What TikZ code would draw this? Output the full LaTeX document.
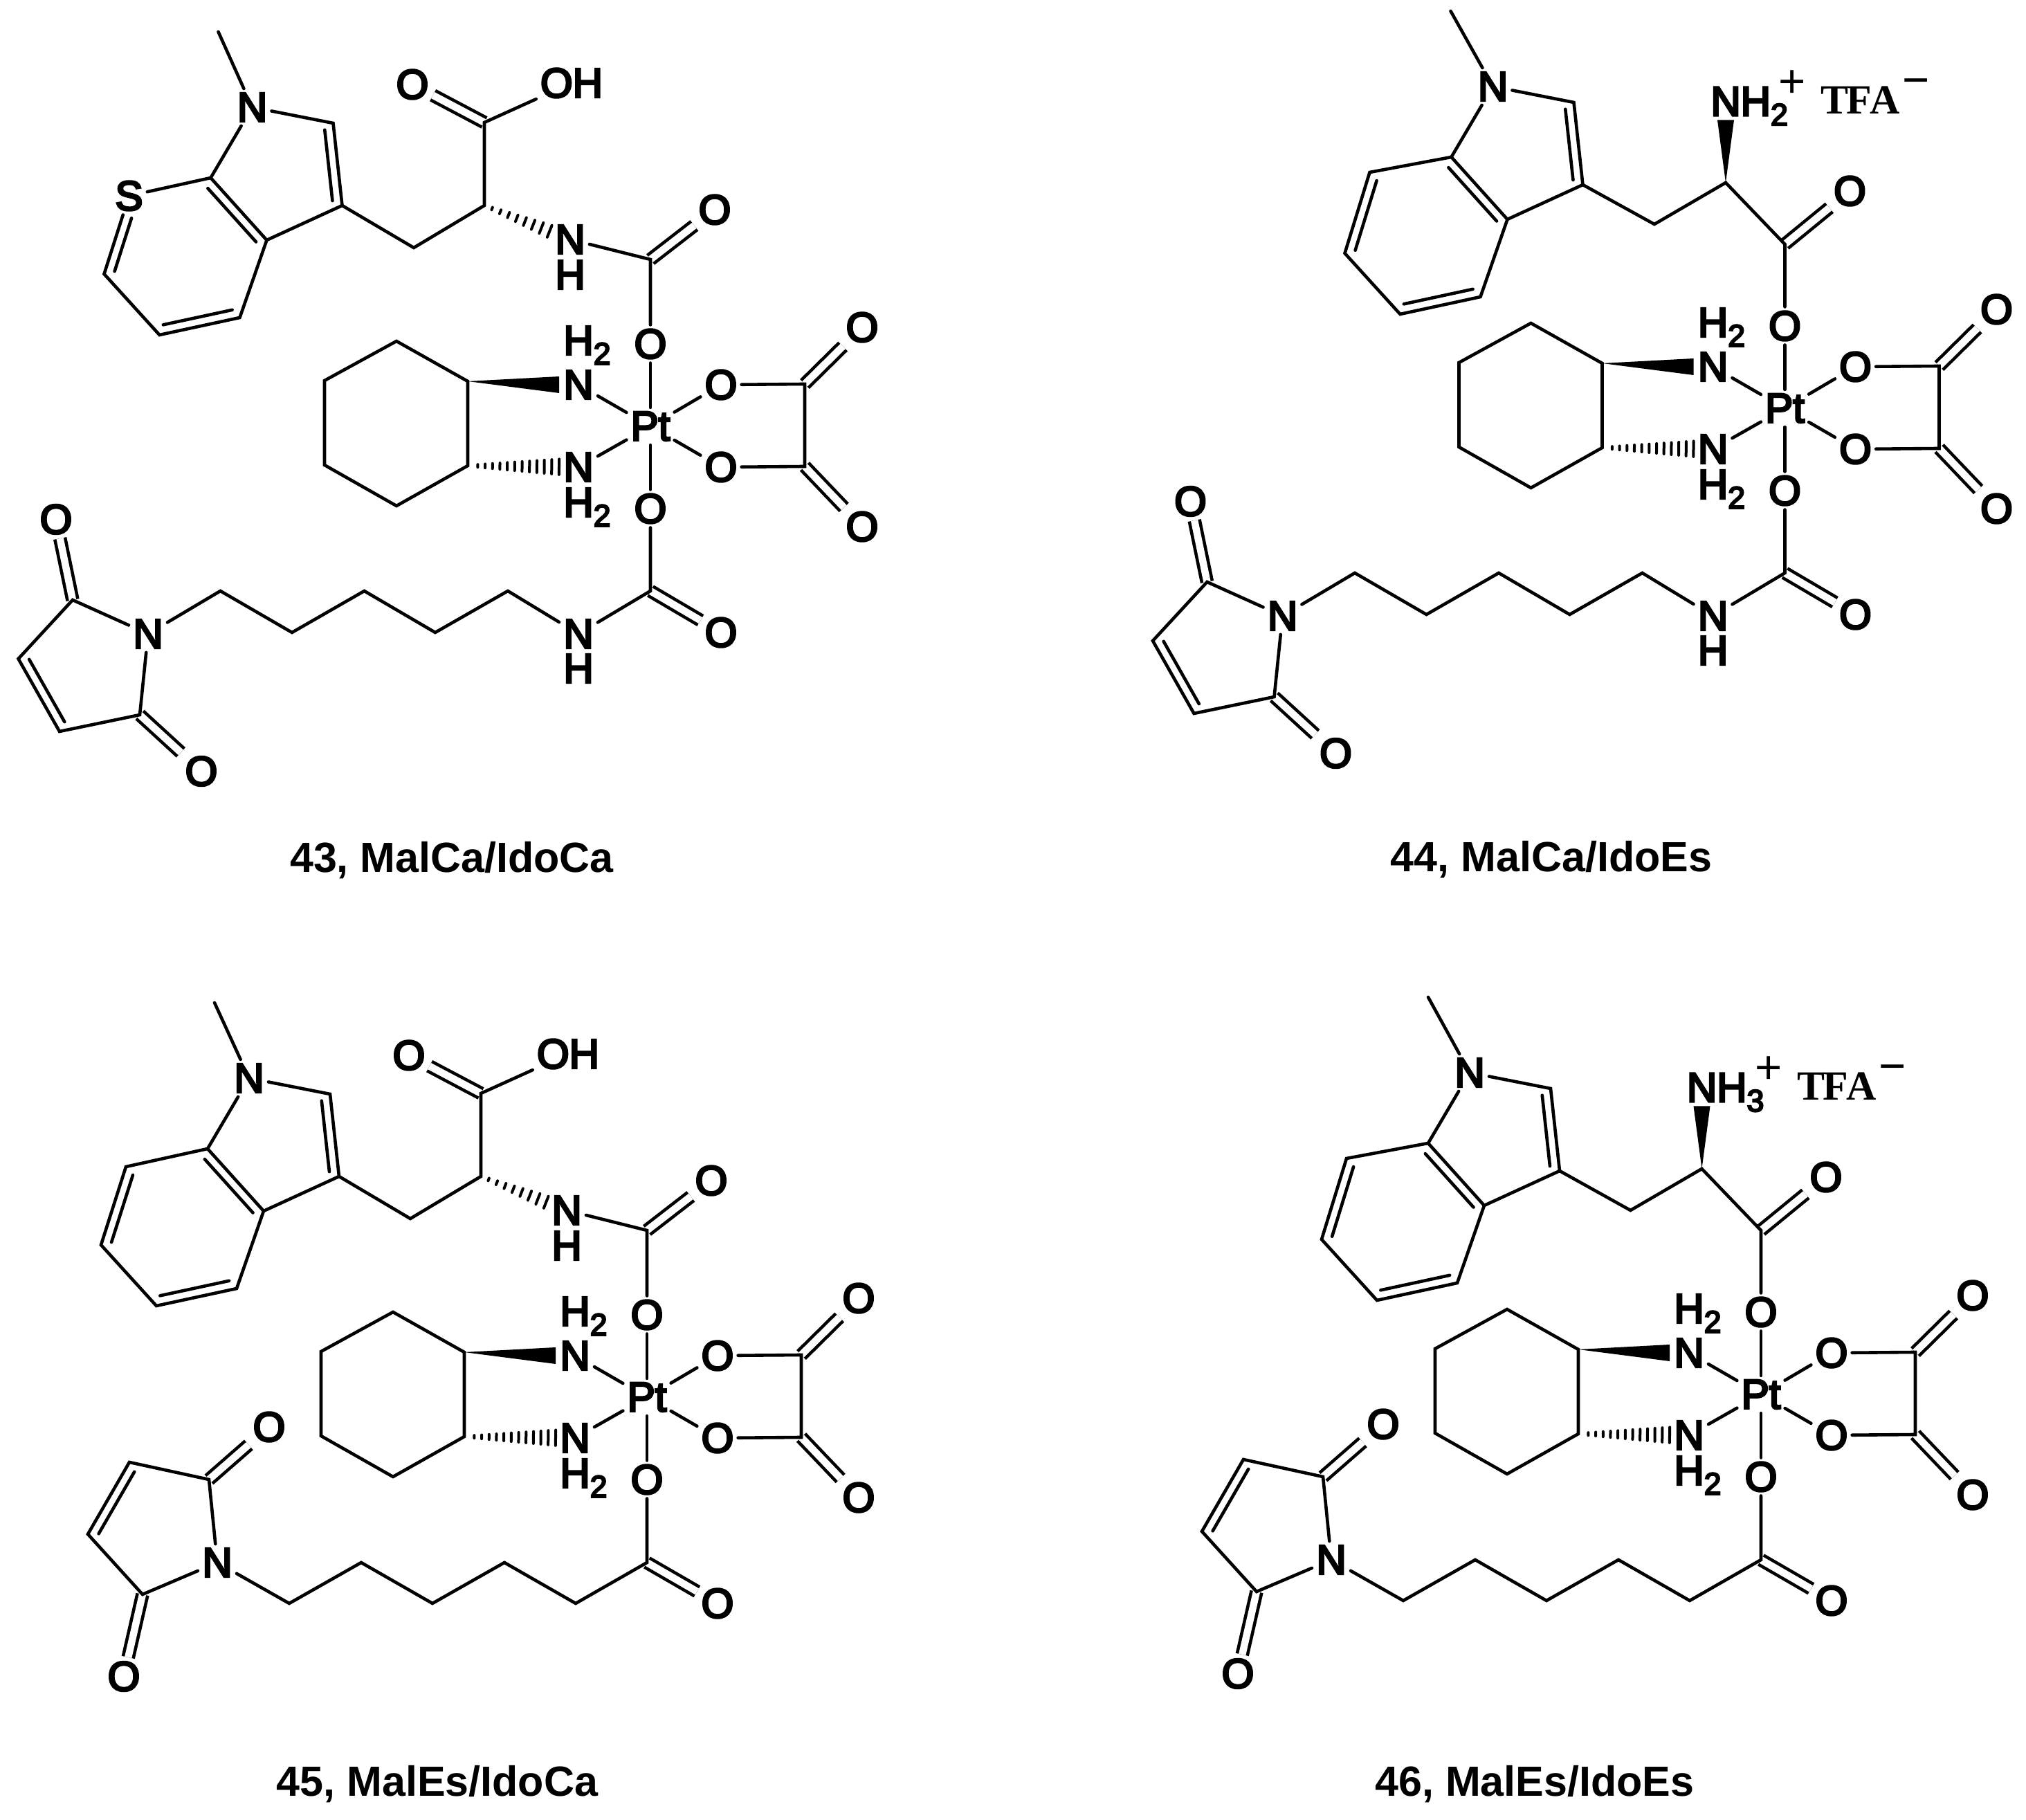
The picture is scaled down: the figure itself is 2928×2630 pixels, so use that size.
\documentclass[tikz,border=0pt]{standalone}
\usepackage{fontspec}
\setmainfont{Liberation Sans}
\newfontfamily\atomfont[FakeBold=5]{Liberation Sans}
\newfontfamily\tfafont{Liberation Serif}
\usetikzlibrary{calc}

\tikzset{
	atom/.style={inner sep=1pt,font=\atomfont\fontsize{15}{15}\selectfont},
	charge/.style={inner sep=0pt,font=\fontsize{16.8}{17}\selectfont},
	salt/.style={inner sep=0pt,font=\fontsize{15}{15}\selectfont\tfafont\bfseries},
	caption/.style={inner sep=0pt,font=\fontsize{15.25}{16}\selectfont\bfseries},
	dbl/.style={double,double distance=2.6pt,line cap=butt}
}

\newcommand{\subdigit}[1]{\smash{\raisebox{-3.5pt}{\fontsize{11.2}{11.2}\selectfont #1}}}
% second line of a ring double bond, on the left going from #2 to #3
\newcommand{\innerbond}[3][.07]{\draw ($(#2)!#1!(#3)!3.3pt!90:(#3)$) -- ($(#3)!.07!(#2)!3.3pt!-90:(#2)$);}
% #3 last position, #4 marks, #5 half length of the last mark
\newcommand{\hashbond}[5]{
	\foreach \n in {1,...,#4} {
		\pgfmathsetmacro\hf{0.09+(#3-0.09)*(\n-1)/(#4-1)}
		\pgfmathsetmacro\hw{0.5+(#5-0.5)*(\n-1)/(#4-1)}
		\draw[line width=1pt] ($(#1)!\hf!(#2)!\hw pt!90:(#2)$) -- ($(#1)!\hf!(#2)!\hw pt!-90:(#2)$);
	}
}

% platinum centre with oxalate and diaminocyclohexane
\newcommand{\platcore}{
	\node[atom] (pt) at (0,-1) {Pt};
	\node[atom] (oa) at (0,-120) {O};
	\node[atom] (ob) at (0,118) {O};
	\node[atom] (oc) at (102,-61) {O};
	\node[atom] (od) at (102,58) {O};
	\coordinate (xa) at (223,-62);
	\coordinate (xb) at (223,57);
	\node[atom] (oe) at (306,-144) {O};
	\node[atom] (og) at (306,144) {O};
	\node[atom] (nu) at (-104,-61) {N};
	\node[atom] (nd) at (-104,58) {N};
	\node[atom] (hu) at (-104,-125) {H\rlap{\subdigit{2}}};
	\node[atom] (hd) at (-104,109) {H\rlap{\subdigit{2}}};
	\coordinate (ra) at (-264,-66);
	\coordinate (rb) at (-367,-124);
	\coordinate (rc) at (-471,-67);
	\coordinate (rd) at (-471,55);
	\coordinate (re) at (-367,114);
	\coordinate (rf) at (-264,56);
	\draw[dbl] (xa) -- (oe);
	\draw[dbl] (xb) -- (og);
	\draw (oa) -- (pt) -- (ob);
	\draw (nu) -- (pt) -- (nd);
	\draw (oc) -- (pt) -- (od);
	\draw (oc) -- (xa) -- (xb) -- (od);
	\draw (ra) -- (rb) -- (rc) -- (rd) -- (re) -- (rf) -- cycle;
	\fill (ra) -- ($(nu.west)+(0,-12)$) -- ($(nu.west)+(0,12)$) -- cycle;
	\hashbond{rf}{nd}{0.825}{12}{2.8}
}

% #1 the atom at position 7, #2 x of the methyl end, #3 how far its double bond stays from it
\newcommand{\indole}[3]{
	\node[atom] (ia) at (0,0) {N};
	\coordinate (im) at (#2,-109);
	\coordinate (ib) at (117,23);
	\coordinate (ic) at (130,142);
	\coordinate (id) at (21,192);
	\coordinate (ie) at (-60,102);
	#1
	\coordinate (ig) at (-214,241);
	\coordinate (ih) at (-134,329);
	\coordinate (ii) at (-18,304);
	\draw (im) -- (ia) -- (ib) -- (ic) -- (id) -- (ie) -- (ia);
	\draw (ie) -- (if) -- (ig) -- (ih) -- (ii) -- (id);
	\innerbond{ic}{ib}
	\innerbond{id}{ie}
	\innerbond[#3]{if}{ig}
	\innerbond{ih}{ii}
}

\newcommand{\acidarm}{
	\coordinate (sa) at (-342,-259);
	\coordinate (sb) at (-240,-320);
	\coordinate (sc) at (-240,-440);
	\node[atom] (sd) at (-344,-495) {O};
	\node[atom] (se) at (-114,-497) {OH};
	\node[atom] (sf) at (-116,-271) {N};
	\node[atom] (sg) at (-116,-220) {H};
	\coordinate (sh) at (0,-242);
	\node[atom] (si) at (93,-314) {O};
	\draw[dbl] (sc) -- (sd);
	\draw[dbl] (sh) -- (si);
	\draw (ic) -- (sa) -- (sb) -- (sc) -- (se);
	\draw (sf) -- (sh) -- (oa);
	\hashbond{sb}{sf}{0.76}{8}{2.3}
}

% #1 the number of hydrogens on the amine
\newcommand{\esterarm}[1]{
	\coordinate (sa) at (-188.6,-267);
	\coordinate (sb) at (-85.5,-327);
	\node[atom] (sf) at (-85.5,-444.5) {N\rlap{H\subdigit{#1}}};
	\node[charge] (sp) at (10.8,-470) {+};
	\node[salt] (st) at (109.4,-446) {T\kern-.75pt F\kern-.75pt A};
	\node[charge] (sm) at (190,-465) {−};
	\coordinate (sh) at (0,-238);
	\node[atom] (si) at (94,-315) {O};
	\draw[dbl] (sh) -- (si);
	\draw (ic) -- (sa) -- (sb) -- (sh) -- (oa);
	\fill (sb) -- ($(sf.south)+(-12,0)$) -- ($(sf.south)+(12,0)$) -- cycle;
}

\newcommand{\carbamatetail}{
	\coordinate (ta) at (0,237);
	\node[atom] (tb) at (102,297) {O};
	\node[atom] (tc) at (-104,299) {N};
	\node[atom] (td) at (-104,349) {H};
	\coordinate (te) at (-206,237);
	\coordinate (tf) at (-311,297);
	\coordinate (tg) at (-413.5,237);
	\coordinate (th) at (-518,297);
	\coordinate (ti) at (-621.5,237);
	\node[atom] (ma) at (-726,299) {N};
	\coordinate (mb) at (-835,250);
	\coordinate (mc) at (-913.5,335);
	\coordinate (md) at (-854,440);
	\coordinate (me) at (-738,416);
	\node[atom] (mf) at (-859,133.5) {O};
	\node[atom] (mg) at (-649,497.5) {O};
	\draw[dbl] (ta) -- (tb);
	\draw[dbl] (mb) -- (mf);
	\draw[dbl] (me) -- (mg);
	\draw (ob) -- (ta) -- (tc);
	\draw (tc) -- (te) -- (tf) -- (tg) -- (th) -- (ti) -- (ma);
	\draw (ma) -- (mb) -- (mc) -- (md) -- (me) -- (ma);
	\innerbond{mc}{md}
}

\newcommand{\estertail}{
	\coordinate (ta) at (0,238);
	\node[atom] (tb) at (102,297) {O};
	\coordinate (tc) at (-103,297);
	\coordinate (te) at (-206,238);
	\coordinate (tf) at (-310,297);
	\coordinate (tg) at (-413,238);
	\coordinate (th) at (-517,297);
	\node[atom] (ma) at (-621,238) {N};
	\coordinate (mb) at (-633,118);
	\coordinate (mc) at (-748,93);
	\coordinate (md) at (-808,197);
	\coordinate (me) at (-729,284);
	\node[atom] (mf) at (-546,42) {O};
	\node[atom] (mg) at (-756,402.5) {O};
	\draw[dbl] (ta) -- (tb);
	\draw[dbl] (mb) -- (mf);
	\draw[dbl] (me) -- (mg);
	\draw (ob) -- (ta) -- (tc) -- (te) -- (tf) -- (tg) -- (th) -- (ma);
	\draw (ma) -- (mb) -- (mc) -- (md) -- (me) -- (ma);
	\innerbond{mc}{md}
}

\begin{document}
\begin{tikzpicture}[x=0.25pt,y=-0.25pt,line width=1.15pt,line cap=round]
\useasboundingbox (0,0) rectangle (2928,2630);

\begin{scope}[shift={(940,617)}]
	\platcore
	\begin{scope}[shift={(-575.5,-462)}]
		\indole{\node[atom] (if) at (-178,128) {S};}{-49}{.25}
	\end{scope}
	\acidarm
	\carbamatetail
\end{scope}
\node[caption] (capa) at (653,1243) {43, MalCa/IdoCa};

\begin{scope}[shift={(2579.5,591)}]
	\platcore
	\begin{scope}[shift={(-422,-466)}]
		\indole{\coordinate (if) at (-178,124);}{-61}{.07}
	\end{scope}
	\esterarm{2}
	\carbamatetail
\end{scope}
\node[caption] (capb) at (2242,1242) {44, MalCa/IdoEs};

\begin{scope}[shift={(935,2020)}]
	\platcore
	\begin{scope}[shift={(-575,-462)}]
		\indole{\coordinate (if) at (-178,128);}{-50}{.07}
	\end{scope}
	\acidarm
	\estertail
\end{scope}
\node[caption] (capc) at (632,2578) {45, MalEs/IdoCa};

\begin{scope}[shift={(2545,2016)}]
	\platcore
	\begin{scope}[shift={(-421,-466)}]
		\indole{\coordinate (if) at (-178,124);}{-60}{.07}
	\end{scope}
	\esterarm{3}
	\estertail
\end{scope}
\node[caption] (capd) at (2218,2578) {46, MalEs/IdoEs};
\end{tikzpicture}
\end{document}
